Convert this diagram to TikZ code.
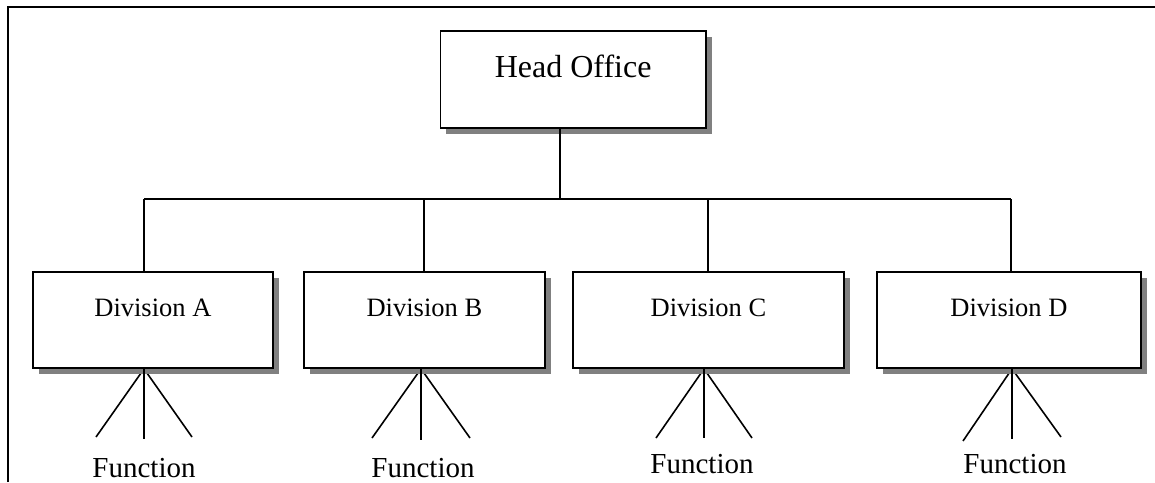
\documentclass[tikz,border=0pt]{standalone}
\usepackage{fontspec}
\setmainfont{Liberation Serif}
\usetikzlibrary{shadows,backgrounds,calc}
\begin{document}
\begin{tikzpicture}[x=1pt,y=-1pt,
  frame/.style={line width=2pt},
  orgbox/.style={draw, line width=1.8pt, fill=white, inner sep=0pt, anchor=north west,
    drop shadow={shadow xshift=6pt, shadow yshift=-6pt, fill=black!50, opacity=1}},
  headbox/.style={orgbox, font=\fontsize{32}{36}\selectfont, text height=47pt, text depth=50pt},
  divbox/.style={orgbox, font=\fontsize{26.5}{30}\selectfont, text height=45pt, text depth=51pt},
  link/.style={line width=1.6pt},
  fn/.style={font=\fontsize{29}{32}\selectfont, anchor=base, inner sep=0pt}]
\useasboundingbox (0,0) rectangle (1155,482);

% open frame: left and top edges only
\draw[frame] (7.7,482) -- (7.7,6.7) -- (1155,6.7);

% boxes
\node[headbox, minimum width=265.5pt] (ho) at (439.5,30) {Head Office};
\node[divbox, minimum width=240pt] (dA) at (32,271) {Division A};
\node[divbox, minimum width=241pt] (dB) at (303,271) {Division B};
\node[divbox, minimum width=271pt] (dC) at (572,271) {Division C};
\node[divbox, minimum width=264pt] (dD) at (876,271) {Division D};

% function labels
\node[fn] (fA) at (144,477) {Function};
\node[fn] (fB) at (423,477) {Function};
\node[fn] (fC) at (702,473) {Function};
\node[fn] (fD) at (1015,473) {Function};

% bus between head office and divisions
\coordinate (bus) at (560,199);
\coordinate (tA) at (144,199);
\coordinate (tB) at (424,199);
\coordinate (tC) at (708,199);
\coordinate (tD) at (1011,199);
\draw[link] (ho.south -| bus) -- (bus);
\draw[link] (tA) -- (tD);
\foreach \d in {A,B,C,D}
  \draw[link] (t\d) -- (t\d |- d\d.north);

% fan of function lines below each division
\coordinate (mA) at (144,439);  \coordinate (lA) at (96,437);  \coordinate (rA) at (192,437);
\coordinate (mB) at (421,440);  \coordinate (lB) at (372,438); \coordinate (rB) at (470,438);
\coordinate (mC) at (704,438);  \coordinate (lC) at (656,438); \coordinate (rC) at (752,438);
\coordinate (mD) at (1012,439); \coordinate (lD) at (963,441); \coordinate (rD) at (1061,437);
\foreach \d in {A,B,C,D} {
  \begin{scope}[on background layer]
    \draw[link] (d\d.south -| m\d) -- (l\d);
    \draw[link] (d\d.south -| m\d) -- (r\d);
  \end{scope}
  \draw[link] (d\d.south -| m\d) -- (m\d);
}
\end{tikzpicture}
\end{document}
